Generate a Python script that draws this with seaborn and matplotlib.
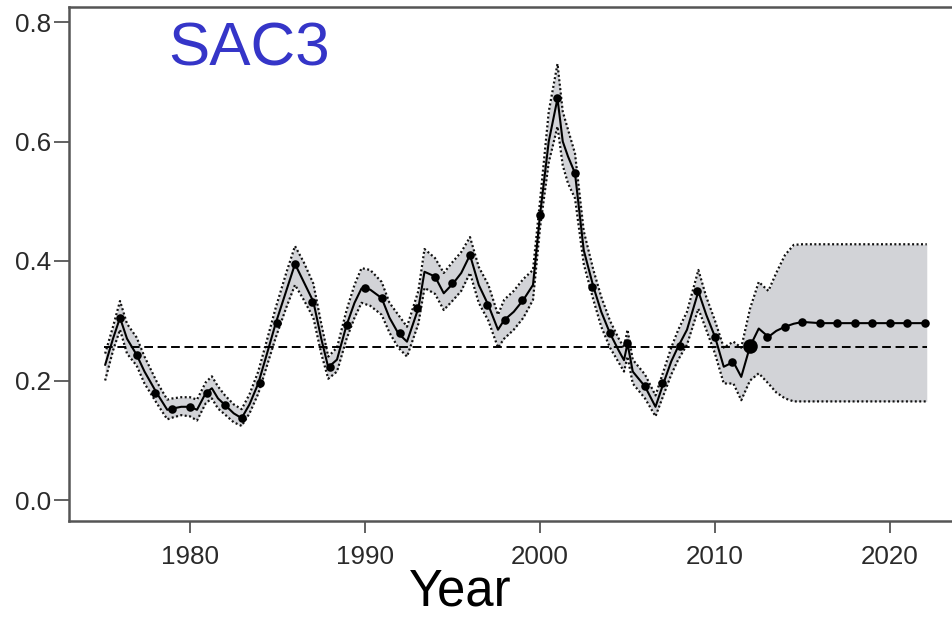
import numpy as np
import pandas as pd
import matplotlib
matplotlib.use("Agg")
import matplotlib.pyplot as plt
import seaborn as sns

# ---- data ----
line_t = [1975.15, 1975.6, 1976.0, 1976.4, 1976.95, 1977.4, 1978.1, 1978.7, 1979.0, 1979.5,
          1980.0, 1980.4, 1980.9, 1981.25, 1981.6, 1982.0, 1982.5, 1982.95, 1983.4, 1983.9,
          1984.4, 1984.9, 1985.5, 1986.0, 1986.5, 1987.05, 1987.5, 1987.9, 1988.4, 1988.95,
          1989.4, 1989.8, 1990.3, 1990.95, 1991.4, 1991.9, 1992.4, 1993.05, 1993.4, 1994.0,
          1994.5, 1995.05, 1995.5, 1996.0, 1996.5, 1997.05, 1997.6, 1997.95, 1998.5, 1999.05,
          1999.6, 2000.0, 2000.5, 2001.0, 2001.3, 2001.6, 2002.0, 2002.5, 2003.05, 2003.5,
          2004.0, 2004.5, 2004.8, 2005.0, 2005.3, 2006.0, 2006.6, 2007.05, 2007.5, 2007.9,
          2008.4, 2009.05, 2009.5, 2010.0, 2010.5, 2011.05, 2011.5, 2012.0, 2012.5, 2013.05,
          2013.5, 2014.0, 2014.5, 2015.0, 2016.0, 2017.0, 2018.0, 2019.0, 2020.0, 2021.0, 2022.1]
line_v = [0.226, 0.270, 0.305, 0.270, 0.243, 0.215, 0.179, 0.151, 0.153, 0.156,
          0.156, 0.151, 0.179, 0.187, 0.170, 0.159, 0.145, 0.137, 0.160, 0.195,
          0.245, 0.296, 0.350, 0.395, 0.365, 0.332, 0.270, 0.222, 0.235, 0.293,
          0.330, 0.354, 0.352, 0.338, 0.305, 0.279, 0.265, 0.321, 0.382, 0.374,
          0.346, 0.363, 0.380, 0.410, 0.360, 0.326, 0.285, 0.301, 0.315, 0.335,
          0.360, 0.477, 0.600, 0.672, 0.600, 0.575, 0.547, 0.418, 0.357, 0.315,
          0.279, 0.250, 0.234, 0.262, 0.215, 0.190, 0.156, 0.195, 0.232, 0.257,
          0.285, 0.349, 0.310, 0.273, 0.223, 0.231, 0.206, 0.257, 0.287, 0.273,
          0.283, 0.290, 0.295, 0.298, 0.296, 0.296, 0.296, 0.296, 0.296, 0.296, 0.296]
band_upper = [0.245, 0.290, 0.333, 0.295, 0.272, 0.240, 0.198, 0.168, 0.170, 0.172,
              0.172, 0.168, 0.197, 0.207, 0.190, 0.175, 0.160, 0.152, 0.177, 0.215,
              0.268, 0.322, 0.380, 0.425, 0.398, 0.362, 0.295, 0.240, 0.255, 0.318,
              0.360, 0.388, 0.385, 0.365, 0.330, 0.310, 0.290, 0.350, 0.420, 0.405,
              0.380, 0.400, 0.415, 0.440, 0.390, 0.360, 0.310, 0.335, 0.350, 0.370,
              0.385, 0.500, 0.650, 0.730, 0.650, 0.620, 0.580, 0.450, 0.385, 0.340,
              0.300, 0.270, 0.255, 0.285, 0.235, 0.210, 0.175, 0.215, 0.255, 0.285,
              0.315, 0.385, 0.340, 0.300, 0.255, 0.265, 0.255, 0.320, 0.365, 0.350,
              0.380, 0.410, 0.427, 0.428, 0.428, 0.428, 0.428, 0.428, 0.428, 0.428, 0.428]
band_lower = [0.200, 0.250, 0.285, 0.245, 0.225, 0.195, 0.162, 0.135, 0.138, 0.142,
              0.140, 0.133, 0.162, 0.170, 0.153, 0.143, 0.130, 0.124, 0.145, 0.178,
              0.225, 0.272, 0.322, 0.360, 0.335, 0.305, 0.245, 0.203, 0.215, 0.270,
              0.305, 0.330, 0.325, 0.310, 0.280, 0.255, 0.240, 0.295, 0.355, 0.345,
              0.318, 0.335, 0.350, 0.380, 0.330, 0.300, 0.255, 0.270, 0.285, 0.305,
              0.335, 0.455, 0.565, 0.625, 0.560, 0.530, 0.505, 0.395, 0.335, 0.290,
              0.255, 0.230, 0.215, 0.240, 0.195, 0.170, 0.140, 0.175, 0.210, 0.235,
              0.260, 0.320, 0.285, 0.245, 0.195, 0.195, 0.167, 0.200, 0.212, 0.195,
              0.180, 0.170, 0.165, 0.165, 0.165, 0.165, 0.165, 0.165, 0.165, 0.165, 0.165]

dot_years = list(range(1976, 2023))
dot_values = [0.305, 0.243, 0.179, 0.153, 0.156, 0.179, 0.159, 0.137, 0.195, 0.296,
              0.395, 0.332, 0.222, 0.293, 0.354, 0.338, 0.279, 0.321, 0.374, 0.363,
              0.410, 0.326, 0.301, 0.335, 0.477, 0.672, 0.547, 0.357, 0.279, 0.262,
              0.190, 0.195, 0.257, 0.349, 0.273, 0.231, 0.257, 0.273, 0.290, 0.298,
              0.296, 0.296, 0.296, 0.296, 0.296, 0.296, 0.296]
current_year = [2012]
current_value = [0.257]

ref_years = [1975.1, 2022.1]
ref_level = [0.256, 0.256]

x_ticks = [1980, 1990, 2000, 2010, 2020]
y_ticks = [0.0, 0.2, 0.4, 0.6, 0.8]
y_tick_labels = ["0.0", "0.2", "0.4", "0.6", "0.8"]
title_text = "SAC3"
xlabel_text = "Year"

# ---- figure ----
sns.set_theme(style="ticks")
plt.rcParams["font.family"] = ["Liberation Sans", "DejaVu Sans"]

W, H = 952, 619
fig = plt.figure(figsize=(W / 100, H / 100), dpi=100)
ax_left, ax_right, ax_bottom, ax_top = 69, 972, 521, 7
ax = fig.add_axes([ax_left / W, (H - ax_bottom) / H, (ax_right - ax_left) / W, (ax_bottom - ax_top) / H])

df_line = pd.DataFrame({"t": line_t, "v": line_v, "lo": band_lower, "hi": band_upper})
ax.fill_between(df_line["t"], df_line["lo"], df_line["hi"], color="#d2d3d7", lw=0, zorder=1)
sns.lineplot(data=df_line, x="t", y="hi", ax=ax, color="#111111", lw=1.6,
             linestyle=(0, (0.9, 1.1)), zorder=2, estimator=None)
sns.lineplot(data=df_line, x="t", y="lo", ax=ax, color="#111111", lw=1.6,
             linestyle=(0, (0.9, 1.1)), zorder=2, estimator=None)

df_ref = pd.DataFrame({"t": ref_years, "v": ref_level})
sns.lineplot(data=df_ref, x="t", y="v", ax=ax, color="black", lw=1.4,
             linestyle=(0, (4.5, 2.4)), zorder=3, estimator=None)

sns.lineplot(data=df_line, x="t", y="v", ax=ax, color="black", lw=1.5, zorder=4, estimator=None)

df_dots = pd.DataFrame({"t": dot_years, "v": dot_values})
sns.scatterplot(data=df_dots, x="t", y="v", ax=ax, color="black", s=38, linewidth=0, zorder=5)
df_cur = pd.DataFrame({"t": current_year, "v": current_value})
sns.scatterplot(data=df_cur, x="t", y="v", ax=ax, color="black", s=110, linewidth=0, zorder=6)

# axes scales: 17.5 px per year, 1980 at x=190 ; 597.5 px per unit, 0 at y=500
ax.set_xlim(1980 - (190 - ax_left) / 17.5, 1980 + (ax_right - 190) / 17.5)
ax.set_ylim((500 - ax_bottom) / 597.5, (500 - ax_top) / 597.5)

ax.set_xticks(x_ticks)
ax.set_xticklabels([str(x) for x in x_ticks])
ax.set_yticks(y_ticks)
ax.set_yticklabels(y_tick_labels)
ax.set_xlabel("")
ax.set_ylabel("")

for s in ["left", "bottom", "top", "right"]:
    ax.spines[s].set_visible(True)
    ax.spines[s].set_color("#555555")
    ax.spines[s].set_linewidth(1.8)

ax.tick_params(axis="x", direction="out", length=8.6, width=1.3, color="#555555",
               labelsize=18.7, labelcolor="#2a2a2a", pad=9)
ax.tick_params(axis="y", direction="out", length=11, width=1.3, color="#555555",
               labelsize=18.7, labelcolor="#2a2a2a", pad=2)

fig.text(168 / W, (H - 65) / H, title_text, color="#3535c8", fontsize=44.6,
         ha="left", va="baseline")
fig.text(460.5 / W, (H - 605) / H, xlabel_text, color="black", fontsize=36.5,
         ha="center", va="baseline")

fig.savefig("out.png", dpi=100)
